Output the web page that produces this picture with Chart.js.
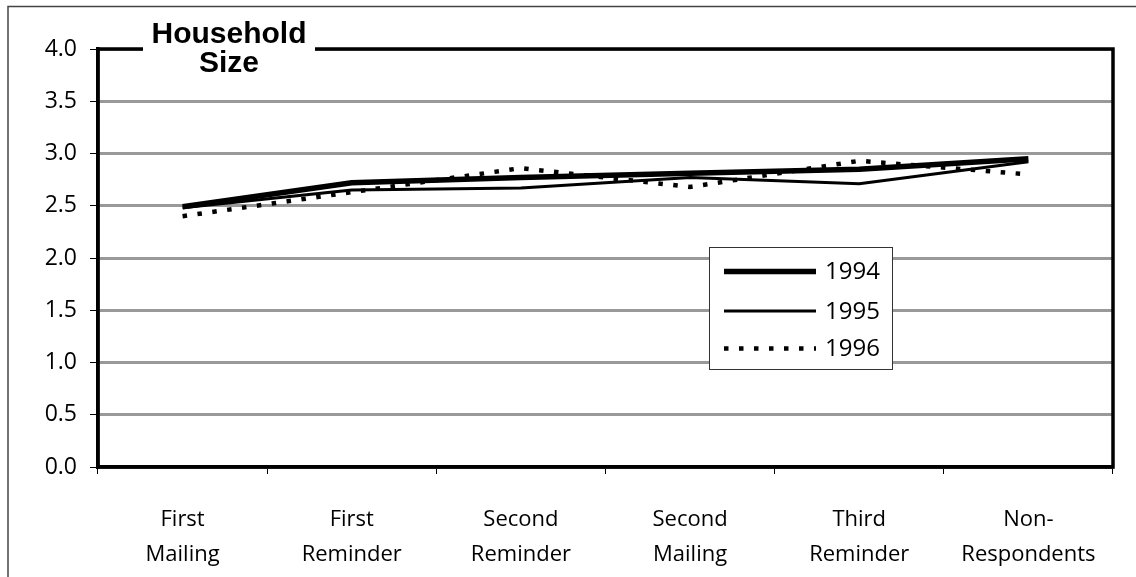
<!DOCTYPE html>
<html>
<head>
<meta charset="utf-8">
<script src="https://cdn.jsdelivr.net/npm/chart.js@4.4.1/dist/chart.umd.min.js"></script>
<style>
  html, body { margin: 0; padding: 0; background: #fff; }
  #wrap { width: 1136px; height: 577px; }
</style>
</head>
<body>
<div id="wrap"><canvas id="hhChart" width="1136" height="577"></canvas></div>
<script>
// Categories along the x axis (two-line labels)
const stages = [
    ["First", "Mailing"],
    ["First", "Reminder"],
    ["Second", "Reminder"],
    ["Second", "Mailing"],
    ["Third", "Reminder"],
    ["Non-", "Respondents"]
];

// Series values
const years = ["1994", "1995", "1996"];
const size1994 = [2.49, 2.72, 2.77, 2.81, 2.85, 2.95];
const size1995 = [2.48, 2.65, 2.67, 2.77, 2.71, 2.92];
const size1996 = [2.40, 2.63, 2.86, 2.68, 2.93, 2.80];

// Y axis range
const yMin = 0;
const yMax = 4;
const yStep = 0.5;

const chartTitle = ["Household", "Size"];

const FONT = "'Open Sans', 'Liberation Sans', sans-serif";

// Frame, title box and inline legend drawn over the chart
const decorations = {
    id: "decorations",
    afterDraw(chart) {
        const ctx = chart.ctx;
        const a = chart.chartArea;
        ctx.save();

        // outer frame (top + left only visible)
        ctx.strokeStyle = "#444";
        ctx.lineWidth = 1.5;
        ctx.beginPath();
        ctx.moveTo(8, 577);
        ctx.lineTo(8, 6.5);
        ctx.lineTo(1136, 6.5);
        ctx.stroke();

        // plot border
        ctx.strokeStyle = "#000";
        ctx.lineWidth = 3.5;
        ctx.strokeRect(a.left, a.top, a.right - a.left, a.bottom - a.top);

        // title box cutting through the top border
        ctx.fillStyle = "#fff";
        ctx.fillRect(143, 14, 172, 66);
        ctx.fillStyle = "#000";
        ctx.font = "bold 30px 'Liberation Sans', Arial, sans-serif";
        ctx.textAlign = "center";
        ctx.textBaseline = "alphabetic";
        ctx.fillText(chartTitle[0], 229, 43);
        ctx.fillText(chartTitle[1], 229, 72);

        // legend
        const lx = 709.5, ly = 247.5, lw = 183, lh = 122;
        ctx.fillStyle = "#fff";
        ctx.fillRect(lx, ly, lw, lh);
        ctx.strokeStyle = "#333";
        ctx.lineWidth = 1;
        ctx.strokeRect(lx, ly, lw, lh);

        const rows = [271.5, 311, 348.5];
        chart.data.datasets.forEach((ds, i) => {
            const y = rows[i];
            ctx.strokeStyle = "#000";
            ctx.lineWidth = ds.borderWidth;
            ctx.lineCap = "butt";
            ctx.setLineDash(ds.borderDash || []);
            ctx.beginPath();
            ctx.moveTo(724, y);
            ctx.lineTo(816, y);
            ctx.stroke();
            ctx.setLineDash([]);
            ctx.fillStyle = "#000";
            ctx.font = "24px " + FONT;
            ctx.textAlign = "left";
            ctx.textBaseline = "middle";
            ctx.fillText(ds.label, 825, y + 1);
        });

        ctx.restore();
    }
};

const el = document.getElementById("hhChart");

new Chart(el, {
    type: "line",
    data: {
        labels: stages,
        datasets: [
            {
                label: years[0],
                data: size1994,
                borderColor: "#000",
                borderWidth: 5.5
            },
            {
                label: years[1],
                data: size1995,
                borderColor: "#000",
                borderWidth: 3
            },
            {
                label: years[2],
                data: size1996,
                borderColor: "#000",
                borderWidth: 4.5,
                borderDash: [4.5, 10.5]
            }
        ]
    },
    options: {
        responsive: false,
        maintainAspectRatio: false,
        animation: false,
        devicePixelRatio: 1,
        layout: { padding: { top: 49, right: 23, left: 0, bottom: 0 } },
        elements: {
            point: { radius: 0 },
            line: { tension: 0, borderCapStyle: "butt" }
        },
        plugins: {
            legend: { display: false },
            tooltip: { enabled: false }
        },
        scales: {
            x: {
                offset: true,
                grid: {
                    offset: true,
                    drawOnChartArea: false,
                    drawTicks: true,
                    tickLength: 7,
                    tickColor: "#000",
                    tickWidth: 1
                },
                border: { display: true, color: "#000", width: 3.5 },
                ticks: {
                    color: "#000",
                    font: { family: FONT, size: 22, lineHeight: 1.6 },
                    padding: 28,
                    maxRotation: 0,
                    autoSkip: false
                },
                afterFit: (s) => { s.height = 110; }
            },
            y: {
                min: yMin,
                max: yMax,
                grid: {
                    color: "#999",
                    lineWidth: 3,
                    tickColor: "#000",
                    tickWidth: 1,
                    tickLength: 8
                },
                border: { display: true, color: "#000", width: 3.5 },
                ticks: {
                    stepSize: yStep,
                    color: "#000",
                    font: { family: FONT, size: 23 },
                    padding: 13,
                    callback: (v) => Number(v).toFixed(1)
                },
                afterFit: (s) => { s.width = 98; }
            }
        }
    },
    plugins: [decorations]
});
</script>
</body>
</html>
